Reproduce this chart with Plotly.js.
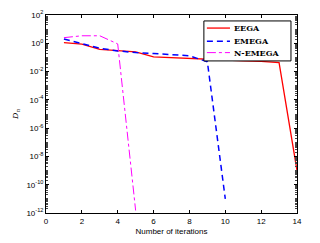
<!DOCTYPE html>
<html><head><meta charset="utf-8">
<script src="https://cdn.plot.ly/plotly-3.0.1.min.js"></script>
<style>html,body{margin:0;padding:0;background:#fff}#c{width:320px;height:243px}</style>
</head><body><div id="c"></div>
<script>
const iters = [1,2,3,4,5,6,7,8,9,10,11,12,13,14];
const eega = [1.1,0.87,0.37,0.29,0.25,0.11,0.095,0.082,0.075,0.066,0.058,0.052,0.043,1e-9];
const emegaX = [1,2,3,4,5,6,7,8,9,10];
const emega = [2.0,0.9,0.44,0.29,0.22,0.19,0.16,0.13,0.05,1e-11];
const nemegaX = [1,2,3,4,5];
const nemega = [2.5,3.4,3.4,0.9,1.5e-12];
const seriesNames = ['EEGA','EMEGA','N-EMEGA'];
const yTickVals = [1e-12,1e-10,1e-8,1e-6,1e-4,1e-2,1,1e2];
const yTickText = ['10<sup>-12</sup>','10<sup>-10</sup>','10<sup>-8</sup>','10<sup>-6</sup>','10<sup>-4</sup>','10<sup>-2</sup>','10<sup>0</sup>','10<sup>2</sup>'];
const xTickVals = [0,2,4,6,8,10,12,14];

const styles = [
 {color: '#ff0000', width: 1.3, dash: 'solid'},
 {color: '#0000ff', width: 1.5, dash: '6px,4px'},
 {color: '#ff00ff', width: 1, dash: 'dashdot'}
];
const traces = [
 {x: iters, y: eega, name: seriesNames[0], mode: 'lines', line: styles[0]},
 {x: emegaX, y: emega, name: seriesNames[1], mode: 'lines', line: styles[1]},
 {x: nemegaX, y: nemega, name: seriesNames[2], mode: 'lines', line: styles[2]}
];
// custom compact legend (MATLAB style)
const legRows = [0.934, 0.867, 0.810];
const shapes = [{type: 'rect', xref: 'paper', yref: 'paper', x0: 0.629, x1: 0.976, y0: 0.768, y1: 0.970,
  line: {color: '#000', width: 1}, fillcolor: '#fff', layer: 'above'}];
const annotations = [];
seriesNames.forEach((n, i) => {
  shapes.push({type: 'line', xref: 'paper', yref: 'paper', x0: 0.641, x1: 0.733, y0: legRows[i], y1: legRows[i],
    line: styles[i], layer: 'above'});
  annotations.push({xref: 'paper', yref: 'paper', x: 0.741, y: legRows[i], xanchor: 'left', yanchor: 'middle',
    showarrow: false, text: '<b>' + n + '</b>', font: {family: 'DejaVu Serif, Liberation Serif, serif', size: 8, color: '#000'}});
});
const layout = {
 width: 320, height: 243,
 margin: {l: 46, r: 23, t: 15, b: 30},
 paper_bgcolor: '#fff', plot_bgcolor: '#fff',
 font: {family: 'Arial, Liberation Sans, sans-serif', size: 8, color: '#000'},
 xaxis: {range: [0, 14], tickvals: xTickVals, ticks: 'inside', ticklen: 3, tickcolor: '#000',
   showline: true, linecolor: '#000', linewidth: 1, mirror: 'ticks', showgrid: false, zeroline: false,
   title: {text: 'Number of iterations', font: {size: 8}, standoff: 3}},
 yaxis: {type: 'log', range: [-12, 2], tickvals: yTickVals, ticktext: yTickText, ticks: 'inside', ticklen: 3,
   tickcolor: '#000', showline: true, linecolor: '#000', linewidth: 1, mirror: 'ticks', showgrid: false, zeroline: false,
   minor: {ticks: 'inside', ticklen: 2, tickcolor: '#444', dtick: 'D1', showgrid: false},
   title: {text: 'D<sub>n</sub>', font: {family: 'DejaVu Serif, serif', size: 8, style: 'italic'}, standoff: 6}},
 shapes: shapes,
 annotations: annotations,
 showlegend: false
};
Plotly.newPlot('c', traces, layout, {staticPlot: true, displayModeBar: false});
</script></body></html>
